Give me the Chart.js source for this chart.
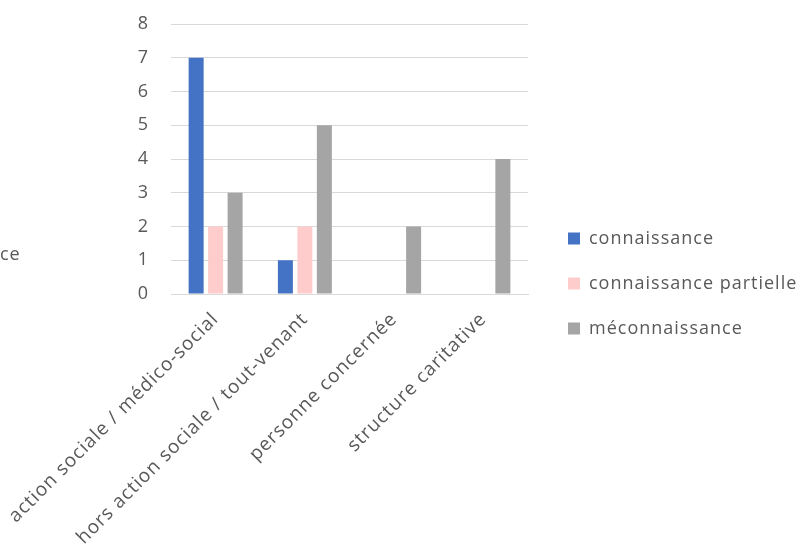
<!DOCTYPE html>
<html>
<head>
<meta charset="utf-8">
<script src="https://cdn.jsdelivr.net/npm/chart.js@4.4.0/dist/chart.umd.min.js"></script>
<style>
  html, body { margin: 0; padding: 0; background: #ffffff; }
  #wrap { position: relative; width: 806px; height: 549px; overflow: hidden; }
  #frag { position: absolute; left: 0; top: 241px; font: 18px "Open Sans", sans-serif; letter-spacing: 1px; color: #595959; }
</style>
</head>
<body>
<div id="wrap">
  <canvas id="graphique" width="806" height="549"></canvas>
  <div id="frag">ce</div>
</div>
<script>
// Catégories et séries
const categories = [
    "action sociale / médico-social",
    "hors action sociale / tout-venant",
    "personne concernée",
    "structure caritative"
];
const connaissance = [7, 1, 0, 0];
const connaissancePartielle = [2, 2, 0, 0];
const meconnaissance = [3, 5, 2, 4];
const ticksY = [0, 1, 2, 3, 4, 5, 6, 7, 8];

const couleurTexte = '#595959';
const police = '"Open Sans", sans-serif';

// Texte un peu plus espacé, comme dans le graphique d'origine
const espacement = {
    id: 'espacement',
    beforeUpdate(chart) { chart.ctx.letterSpacing = '1px'; },
    beforeDraw(chart) { chart.ctx.letterSpacing = '1px'; }
};

const ctx = document.getElementById("graphique").getContext("2d");
new Chart(ctx, {
    type: 'bar',
    data: {
        labels: categories,
        datasets: [
            { label: 'connaissance', data: connaissance, backgroundColor: '#4472c4' },
            { label: 'connaissance partielle', data: connaissancePartielle, backgroundColor: '#ffcccc' },
            { label: 'méconnaissance', data: meconnaissance, backgroundColor: '#a5a5a5' }
        ]
    },
    plugins: [espacement],
    options: {
        responsive: false,
        animation: false,
        datasets: {
            bar: { categoryPercentage: 0.655, barPercentage: 0.77, borderWidth: 0 }
        },
        layout: { padding: { top: 18, right: 0, left: 0, bottom: 0 } },
        plugins: {
            tooltip: { enabled: false },
            legend: {
                position: 'right',
                maxWidth: 265,
                labels: {
                    boxWidth: 12,
                    boxHeight: 12,
                    padding: 27,
                    color: couleurTexte,
                    font: { family: police, size: 18 }
                }
            }
        },
        scales: {
            x: {
                grid: { display: false, drawTicks: false },
                border: { color: '#d9d9d9' },
                ticks: {
                    color: couleurTexte,
                    font: { family: police, size: 19 },
                    minRotation: 45,
                    maxRotation: 45,
                    padding: 14
                },
                afterFit: function(scale) {
                    scale.height = 255;
                    // les étiquettes inclinées débordent à gauche sans pousser la zone du graphique
                    scale.paddingLeft = 0;
                    scale.paddingRight = 0;
                }
            },
            y: {
                min: 0,
                max: 8,
                afterBuildTicks: function(scale) {
                    scale.ticks = ticksY.map(v => ({ value: v }));
                },
                grid: { color: '#d9d9d9', drawTicks: false },
                border: { display: false },
                ticks: {
                    color: couleurTexte,
                    font: { family: police, size: 18 },
                    padding: 22
                },
                afterFit: function(scale) {
                    scale.width = 171;
                    scale.paddingTop = 24; // haut de la zone du graphique à y = 24
                    scale.paddingBottom = 0;
                }
            },
            // marge vide entre la zone du graphique et la légende
            marge: {
                type: 'linear',
                position: 'right',
                grid: { display: false, drawTicks: false },
                border: { display: false },
                ticks: { display: false },
                afterFit: function(scale) { scale.width = 13; }
            }
        }
    }
});
</script>
</body>
</html>
